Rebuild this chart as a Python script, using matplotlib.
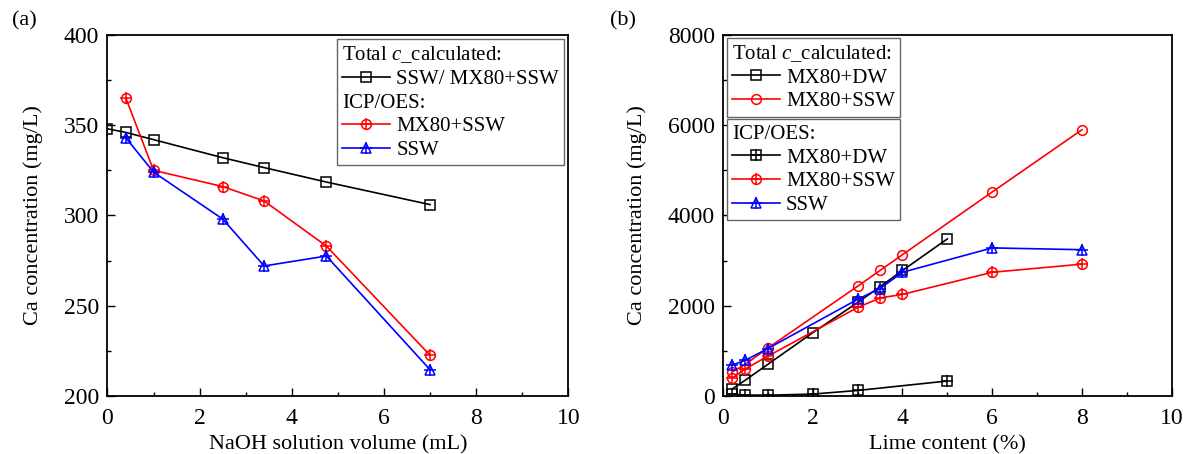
import matplotlib
matplotlib.use('Agg')
import matplotlib.pyplot as plt
from matplotlib.lines import Line2D
from matplotlib.ticker import MultipleLocator

plt.rcParams['font.family'] = ['Liberation Serif', 'DejaVu Serif']
plt.rcParams['mathtext.fontset'] = 'custom'
plt.rcParams['mathtext.rm'] = 'Liberation Serif'
plt.rcParams['mathtext.it'] = 'Liberation Serif:italic'

# ---- panel (a) data ----
a_calc_x = [0, 0.4, 1, 2.5, 3.4, 4.75, 7]
a_calc_y = [348, 346, 342, 332, 326.5, 318.5, 306]
a_icp_x = [0.4, 1, 2.5, 3.4, 4.75, 7]
a_icp_mx80_ssw = [365, 325, 316, 308, 283, 222.5]
a_icp_ssw = [343, 324, 298, 272, 277.5, 214.5]

# ---- panel (b) data ----
b_calc_dw_x = [0.2, 0.5, 1, 2, 3, 3.5, 4, 5]
b_calc_dw = [150, 350, 700, 1400, 2070, 2420, 2780, 3480]
b_x = [0.2, 0.5, 1, 3, 3.5, 4, 6, 8]
b_calc_ssw = [530, 700, 1060, 2430, 2780, 3130, 4520, 5900]
b_icp_dw_x = [0.2, 0.5, 1, 2, 3, 5]
b_icp_dw = [40, 20, 15, 40, 120, 330]
b_icp_mx80_ssw = [390, 600, 880, 1960, 2170, 2250, 2740, 2920]
b_icp_ssw = [680, 790, 1050, 2140, 2380, 2740, 3280, 3240]

FS = 16
TFS = 17
LFS = 15
LW = 1.2
MS = 7
DPI = 100
HL = 2.3

fig = plt.figure(figsize=(11.86, 4.54), dpi=DPI)
ax1 = fig.add_axes([0.0906, 0.128, 0.3886, 0.795])
ax2 = fig.add_axes([0.6096, 0.128, 0.3784, 0.795])


def series(ax, x, y, color, marker, cross=False):
    ln, = ax.plot(x, y, color=color, lw=LW, marker=marker, ms=MS,
                  mfc='none', mec=color, mew=1.1)
    if cross:
        pl, = ax.plot(x, y, ls='none', marker='+', ms=MS + 1, mec=color, mew=1.1)
        return (ln, pl)
    return ln


def blank():
    return Line2D([], [], ls='none', marker='none')


def make_legend(ax, handles, labels, headers, **kw):
    leg = ax.legend(handles, labels, fontsize=LFS, frameon=True, fancybox=False,
                    edgecolor='0.4', framealpha=1, handlelength=HL,
                    handletextpad=0.3, borderpad=0.25, labelspacing=0.2, **kw)
    leg.get_frame().set_linewidth(1.0)
    # header rows: drop the handle slot so the text starts at the left edge
    i = 0
    for col in leg._legend_handle_box.get_children():
        for row in col.get_children():
            if i in headers:
                row.get_children()[0].width = 0
                row.sep = 0
            i += 1
    return leg


def style(ax, xlabel, ylim, ymaj, ymin):
    ax.set_xlim(0, 10)
    ax.set_ylim(*ylim)
    ax.xaxis.set_major_locator(MultipleLocator(2))
    ax.xaxis.set_minor_locator(MultipleLocator(1))
    ax.yaxis.set_major_locator(MultipleLocator(ymaj))
    ax.yaxis.set_minor_locator(MultipleLocator(ymin))
    ax.tick_params(which='both', direction='in', top=False, right=False,
                   labelsize=TFS, width=1)
    ax.tick_params(which='major', length=6)
    ax.tick_params(which='minor', length=3)
    ax.tick_params(axis='x', which='both', pad=9)
    ax.tick_params(axis='y', which='both', pad=6)
    for s in ax.spines.values():
        s.set_linewidth(1.3)
    ax.set_xlabel(xlabel, fontsize=FS, labelpad=4)
    ax.set_ylabel('Ca concentration (mg/L)', fontsize=FS, labelpad=15)


# ---- panel (a) ----
h_calc = series(ax1, a_calc_x, a_calc_y, 'black', 's')
h_red = series(ax1, a_icp_x, a_icp_mx80_ssw, 'red', 'o', cross=True)
h_blue = series(ax1, a_icp_x, a_icp_ssw, 'blue', '^', cross=True)
style(ax1, 'NaOH solution volume (mL)', (200, 400), 50, 25)
make_legend(ax1, [blank(), h_calc, blank(), h_red, h_blue],
            ['Total $c$_calculated:', 'SSW/ MX80+SSW', 'ICP/OES:', 'MX80+SSW', 'SSW'],
            headers=(0, 2), loc='upper right', bbox_to_anchor=(1, 1),
            borderaxespad=0.2)
fig.text(0.01, 0.955, '(a)', fontsize=FS, va='center')

# ---- panel (b) ----
hb_calc_dw = series(ax2, b_calc_dw_x, b_calc_dw, 'black', 's')
hb_icp_dw = series(ax2, b_icp_dw_x, b_icp_dw, 'black', 's', cross=True)
hb_calc_ssw = series(ax2, b_x, b_calc_ssw, 'red', 'o')
hb_icp_ssw = series(ax2, b_x, b_icp_mx80_ssw, 'red', 'o', cross=True)
hb_ssw = series(ax2, b_x, b_icp_ssw, 'blue', '^', cross=True)
style(ax2, 'Lime content (%)', (0, 8000), 2000, 1000)
leg1 = make_legend(ax2, [blank(), hb_calc_dw, hb_calc_ssw],
                   ['Total $c$_calculated:', 'MX80+DW', 'MX80+SSW'],
                   headers=(0,), loc='upper left', bbox_to_anchor=(0.008, 0.992),
                   borderaxespad=0)
ax2.add_artist(leg1)
make_legend(ax2, [blank(), hb_icp_dw, hb_icp_ssw, hb_ssw],
            ['ICP/OES:', 'MX80+DW', 'MX80+SSW', 'SSW'],
            headers=(0,), loc='upper left', bbox_to_anchor=(0.008, 0.767),
            borderaxespad=0)
fig.text(0.514, 0.955, '(b)', fontsize=FS, va='center')

fig.savefig('out.png', dpi=DPI)
